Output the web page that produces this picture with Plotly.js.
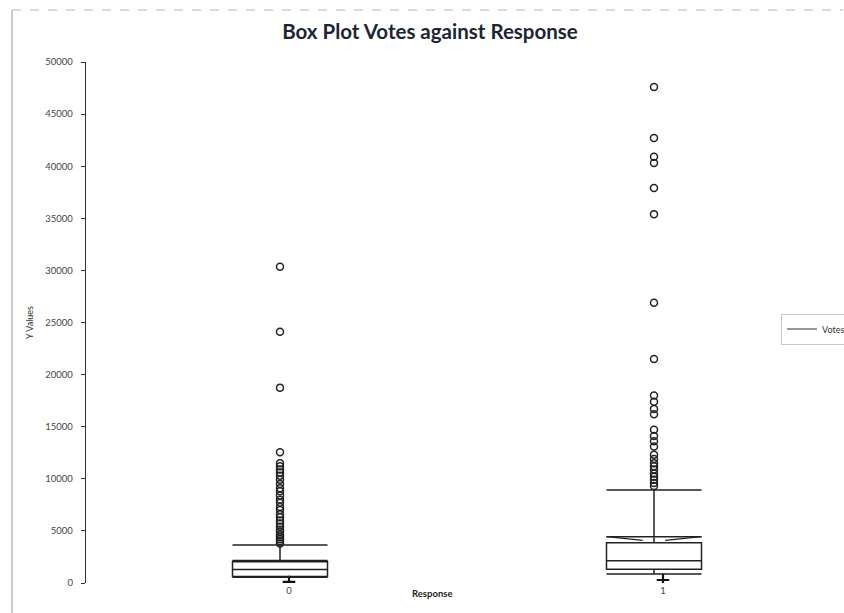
<!DOCTYPE html>
<html>
<head>
<meta charset="utf-8">
<script src="https://cdn.plot.ly/plotly-3.0.1.min.js"></script>
<style>html,body{margin:0;padding:0;background:#fff;}#chart{width:844px;height:613px;}</style>
</head>
<body>
<div id="chart"></div>
<script>
// ---- data ----
const categories = ['0', '1'];
const q1 = [620, 1310];
const median = [1300, 2140];
const q3 = [2050, 3870];
const lowerFence = [560, 860];
const upperFence = [3650, 8925];
const notchHigh = [2150, 4445];
const minValues = [100, 290];
const outliers0 = [30350, 24120, 18750, 12550, 11500, 11200, 10900, 10600, 10300, 9900, 9500, 9100, 8800, 8400, 8000, 7700, 7300, 7000, 6600, 6300, 6000, 5700, 5400, 5100, 4900, 4600, 4400, 4200, 4000, 3800];
const outliers1 = [47600, 42700, 40900, 40300, 37900, 35400, 26900, 21500, 18000, 17400, 16700, 16200, 14700, 14100, 13600, 13100, 12300, 11900, 11500, 11200, 10900, 10500, 10200, 9900, 9600, 9300];
const seriesName = 'Votes';

// ---- layout constants ----
const L = 86, T = 62, B = 30, R = 74, Wfig = 844, Hfig = 613;
const plotW = Wfig - L - R, plotH = Hfig - T - B;
const pxPerUnit = 374;
const x0 = -(289 - L) / pxPerUnit;
const xRange = [x0, x0 + plotW / pxPerUnit];
const boxShift = 9 / pxPerUnit;
const x2Range = [xRange[0] + boxShift, xRange[1] + boxShift];
const boxW = 0.254;
const ink = '#222';

const idx = categories.map((c, i) => i);
const outlierSets = [outliers0, outliers1];

const traces = [];
traces.push({
  type: 'box', x: idx, q1: q1, median: median, q3: q3,
  lowerfence: lowerFence, upperfence: upperFence,
  xaxis: 'x2', yaxis: 'y', width: boxW, whiskerwidth: 1,
  line: {color: ink, width: 1.5}, fillcolor: 'rgba(0,0,0,0)',
  boxpoints: false, showlegend: false, hoverinfo: 'skip'
});
outlierSets.forEach((arr, i) => {
  traces.push({
    type: 'scatter', mode: 'markers', xaxis: 'x2', yaxis: 'y',
    x: arr.map(() => idx[i]), y: arr,
    marker: {symbol: 'circle-open', size: 7, color: ink, line: {width: 1.5, color: ink}},
    showlegend: false, hoverinfo: 'skip'
  });
});
traces.push({
  type: 'scatter', mode: 'markers', x: idx, y: minValues,
  marker: {symbol: 'cross-thin', size: 9, line: {width: 2.2, color: '#111'}},
  showlegend: false, hoverinfo: 'skip'
});
traces.push({
  type: 'scatter', mode: 'lines', x: [null], y: [null], name: seriesName,
  line: {color: '#333', width: 1}, showlegend: true
});

const shapes = [];
idx.forEach(i => {
  const xl = i - boxW / 2, xr = i + boxW / 2;
  const un = notchHigh[i], d = notchHigh[i] - q3[i];
  shapes.push({type: 'line', xref: 'x2', yref: 'y', x0: xl, x1: xr, y0: un, y1: un, line: {color: ink, width: 1.5}});
  shapes.push({type: 'path', xref: 'x2', yref: 'y',
    path: `M${xl},${un} L${i - 0.03},${un - 0.6 * d} M${xr},${un} L${i + 0.03},${un - 0.6 * d}`,
    line: {color: ink, width: 1.3}});
});
// chart-area border (left and top)
shapes.push({type: 'line', xref: 'paper', yref: 'paper', x0: (12 - L) / plotW, x1: (12 - L) / plotW, y0: (Hfig - B - 10) / plotH, y1: -B / plotH, line: {color: '#9a9a9a', width: 1}});
shapes.push({type: 'line', xref: 'paper', yref: 'paper', x0: (12 - L) / plotW, x1: (843 - L) / plotW, y0: (Hfig - B - 10) / plotH, y1: (Hfig - B - 10) / plotH, line: {color: '#b5b5b5', width: 1, dash: 'dash'}});

const tickFont = {family: 'Lato, "Open Sans", sans-serif', size: 9.5, color: '#444'};

const layout = {
  width: Wfig, height: Hfig,
  margin: {l: L, r: R, t: T, b: B, pad: 0, autoexpand: false},
  paper_bgcolor: '#fff', plot_bgcolor: '#fff',
  title: {text: 'Box Plot Votes against Response', x: 430 / Wfig, xanchor: 'center', y: 1 - 32 / Hfig, yanchor: 'middle',
    font: {family: 'Lato, "Open Sans", sans-serif', size: 20.5, color: '#1c2533', weight: 'bold'}},
  showlegend: true,
  legend: {x: (781 - L) / plotW, xanchor: 'left', y: (Hfig - B - 329) / plotH, yanchor: 'middle',
    bordercolor: '#c8c8c8', borderwidth: 1, bgcolor: '#fff', font: {family: 'Lato, sans-serif', size: 9, color: '#333'},
    itemwidth: 30, tracegroupgap: 0},
  xaxis: {type: 'linear', range: xRange, tickvals: idx, ticktext: categories, showgrid: false, zeroline: false,
    showline: false, ticks: '', tickfont: tickFont, fixedrange: true, automargin: false},
  xaxis2: {type: 'linear', range: x2Range, overlaying: 'x', anchor: 'y', visible: false, showgrid: false, zeroline: false},
  yaxis: {range: [0, 50000], dtick: 5000, tick0: 0, tickformat: 'd', showgrid: false, zeroline: false,
    showline: true, linecolor: '#333', linewidth: 1.2, ticks: 'outside', ticklen: 4, tickcolor: '#333',
    ticklabelstandoff: 6, tickfont: tickFont, automargin: false,
    title: {text: 'Y Values', font: {family: 'Lato, sans-serif', size: 9, color: '#333'}, standoff: 10}},
  shapes: shapes,
  annotations: [{text: '<b>Response</b>', xref: 'paper', yref: 'paper', x: (432 - L) / plotW, y: -10 / plotH,
    xanchor: 'center', yanchor: 'middle', showarrow: false, font: {family: 'Lato, sans-serif', size: 9.5, color: '#222'}}]
};

Plotly.newPlot('chart', traces, layout, {displayModeBar: false, staticPlot: true});
</script>
</body>
</html>
